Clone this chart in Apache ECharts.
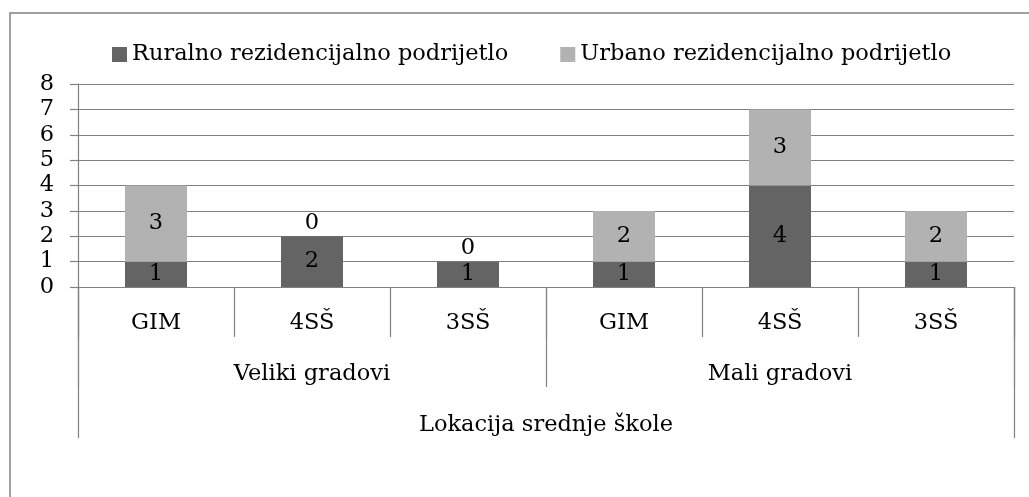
<!DOCTYPE html>
<html>
<head>
<meta charset="utf-8">
<script src="https://cdn.jsdelivr.net/npm/echarts@6/dist/echarts.min.js"></script>
<style>
  html, body { margin: 0; padding: 0; background: #fff; }
  #chart { width: 1029px; height: 497px; }
</style>
</head>
<body>
<div id="chart"></div>
<script>
// Škole (donja razina), veličina grada (srednja razina), naslov osi (gornja razina)
const schoolTypes = ['GIM', '4SŠ', '3SŠ', 'GIM', '4SŠ', '3SŠ'];
const cityGroups = ['Veliki gradovi', 'Mali gradovi'];
const axisTitle = ['Lokacija srednje škole'];

const seriesNames = ['Ruralno rezidencijalno podrijetlo', 'Urbano rezidencijalno podrijetlo'];
const ruralValues = [1, 2, 1, 1, 4, 1];
const urbanValues = [3, 0, 0, 2, 3, 2];

const yTicks = { min: 0, max: 8, step: 1 };

const FONT = 'DejaVu Serif';
const FS = 22.5;
const GRAY = '#808080';
const DARK = '#646464';
const LIGHT = '#b2b2b2';

// Nula nema visinu pa se oznaka crta iznad stupca
function withLabels(values) {
  return values.map(v => v === 0
    ? { value: v, label: { position: 'top', distance: 2 } }
    : { value: v });
}

const chart = echarts.init(document.getElementById('chart'), null, { renderer: 'canvas' });

function levelAxis(data, tickLen, labelMargin) {
  return {
    type: 'category',
    position: 'bottom',
    gridIndex: 0,
    data: data,
    axisLine: { show: false },
    axisTick: { show: true, interval: 0, length: tickLen, lineStyle: { color: GRAY, width: 1.2 } },
    axisLabel: { interval: 0, margin: labelMargin, color: '#000', fontFamily: FONT, fontSize: FS },
    splitLine: { show: false }
  };
}

chart.setOption({
  animation: false,
  backgroundColor: '#fff',
  textStyle: { fontFamily: FONT },
  graphic: [{
    type: 'rect',
    shape: { x: 10, y: 13, width: 1200, height: 700 },
    style: { fill: 'none', stroke: GRAY, lineWidth: 1.5 },
    silent: true
  }],
  legend: {
    left: 107,
    top: 38,
    icon: 'rect',
    itemWidth: 15,
    itemHeight: 15,
    itemGap: 52,
    textStyle: { color: '#000', fontFamily: FONT, fontSize: FS },
    data: seriesNames
  },
  grid: { left: 78, right: 15, top: 84, bottom: 210, containLabel: false },
  xAxis: [
    {
      type: 'category',
      position: 'bottom',
      data: schoolTypes,
      axisLine: { show: true, lineStyle: { color: GRAY, width: 1.2 } },
      axisTick: { show: true, interval: 0, length: 50, lineStyle: { color: GRAY, width: 1.2 } },
      axisLabel: { interval: 0, margin: 25, color: '#000', fontFamily: FONT, fontSize: FS },
      splitLine: { show: false }
    },
    levelAxis(cityGroups, 100, 76),
    levelAxis(axisTitle, 151, 127)
  ],
  yAxis: {
    type: 'value',
    min: yTicks.min,
    max: yTicks.max,
    interval: yTicks.step,
    axisLine: { show: true, lineStyle: { color: GRAY, width: 1.2 } },
    axisTick: { show: true, length: 8, lineStyle: { color: GRAY, width: 1.2 } },
    axisLabel: { margin: 24, color: '#000', fontFamily: FONT, fontSize: FS },
    splitLine: { show: true, lineStyle: { color: GRAY, width: 1.2 } }
  },
  series: [
    {
      name: seriesNames[0],
      type: 'bar',
      stack: 'ukupno',
      xAxisIndex: 0,
      barWidth: 62,
      itemStyle: { color: DARK },
      label: { show: true, position: 'inside', color: '#000', fontFamily: FONT, fontSize: FS },
      data: withLabels(ruralValues)
    },
    {
      name: seriesNames[1],
      type: 'bar',
      stack: 'ukupno',
      xAxisIndex: 0,
      barWidth: 62,
      itemStyle: { color: LIGHT },
      label: { show: true, position: 'inside', color: '#000', fontFamily: FONT, fontSize: FS },
      data: withLabels(urbanValues)
    }
  ]
});
</script>
</body>
</html>
